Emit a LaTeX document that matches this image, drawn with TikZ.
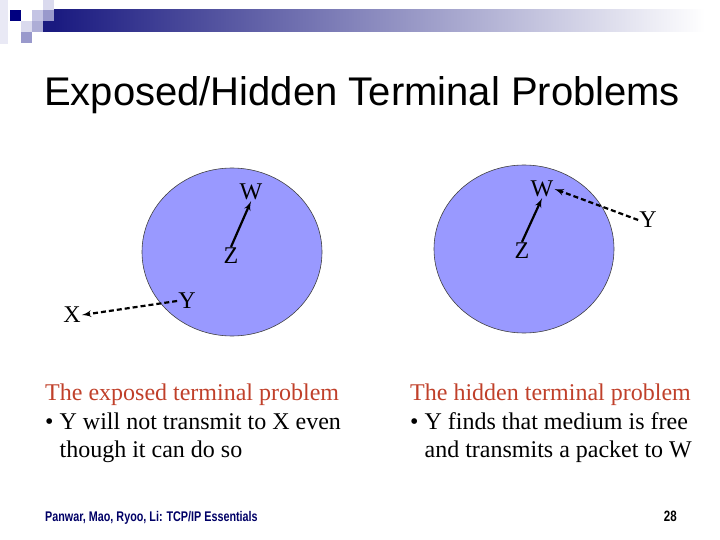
\documentclass[tikz,border=0pt]{standalone}
\usepackage{fontspec}
\setmainfont{Liberation Serif}
\newfontfamily\titlefont{Liberation Sans}
\newfontfamily\footfont[FakeStretch=0.77]{Liberation Sans}
\usetikzlibrary{arrows}
\usetikzlibrary{positioning}
\definecolor{slidenavy}{HTML}{1A1A80}
\definecolor{boxnavy}{HTML}{000080}
\definecolor{sqpale}{HTML}{DADAEE}
\definecolor{sqlight}{HTML}{C4C4E4}
\definecolor{sqmid}{HTML}{9999CC}
\definecolor{cellblue}{HTML}{9999FF}
\definecolor{headred}{HTML}{C0402A}
\definecolor{footnavy}{HTML}{000066}

\tikzset{
  station/.style={inner sep=1bp, font=\fontsize{24bp}{24bp}\selectfont},
  coverage/.style={draw=black!75, line width=0.6bp, fill=cellblue},
  sends/.style={-latex', line width=2.2bp},
  hears/.style={sends, dash pattern=on 5bp off 3bp},
  caption/.style={anchor=base west, inner sep=0, font=\fontsize{24bp}{28.5bp}\selectfont},
}

\begin{document}
\begin{tikzpicture}[x=1bp, y=-1bp]
    \useasboundingbox (0,0) rectangle (720,540);
    % header squares and bar
    \fill[sqpale!60] (0,0) rectangle (8,44);
    \foreach \cx/\cy/\cc in {10/10/boxnavy, 32/10/sqlight, 43/0/sqpale, 43/10/sqmid,
                             21/21/sqpale, 32/21/sqmid!80, 21/32/sqmid}
        \fill[\cc] (\cx,\cy) rectangle +(11,11);
    \shade[left color=slidenavy, middle color=black!30!sqlight, right color=white] (54,10) rectangle (705,32);
    \fill[slidenavy] (43,21) rectangle (54,32);

    \node[anchor=base west, inner sep=0, font=\titlefont\fontsize{40bp}{40bp}\selectfont] (title) at (44,106) {Exposed/Hidden Terminal Problems};

    % exposed terminal
    \draw[coverage] (232,252) ellipse [x radius=90bp, y radius=84bp];
    \node[station] (WL) at (251,192) {W};
    \node[station] (ZL) at (231,256) {Z};
    \node[station] (YL) at (187,301) {Y};
    \node[station] (XL) at (72,315) {X};
    \draw[sends] (ZL.north) -- (WL.south);
    \draw[hears] (YL.west) -- (XL.east);

    % hidden terminal
    \draw[coverage] (524,249) ellipse [x radius=90bp, y radius=84bp];
    \node[station] (WR) at (542,189) {W};
    \node[station] (ZR) at (522,251) {Z};
    \node[station] (YR) at (648,220) {Y};
    \draw[sends] (ZR.north) -- (WR.south);
    \draw[hears] (YR.west) -- (WR.east);

    \node[caption, text=headred] (capL1) at (45,400) {The exposed terminal problem};
    \node[caption] (capL2) at (45,429) {• Y will not transmit to X even};
    \node[caption] (capL3) at (45,457) {\hphantom{• }though it can do so};
    \node[caption, text=headred] (capR1) at (410,400) {The hidden terminal problem};
    \node[caption] (capR2) at (410,429) {• Y finds that medium is free};
    \node[caption] (capR3) at (410,457) {\hphantom{• }and transmits a packet to W};

    \node[anchor=base west, inner sep=0, text=footnavy, font=\footfont\bfseries\fontsize{14bp}{14bp}\selectfont] (foot) at (45,521) {Panwar, Mao, Ryoo, Li: TCP/IP Essentials};
    \node[anchor=base east, inner sep=0, font=\footfont\bfseries\fontsize{15bp}{15bp}\selectfont] (page) at (677,521) {28};
\end{tikzpicture}
\end{document}
